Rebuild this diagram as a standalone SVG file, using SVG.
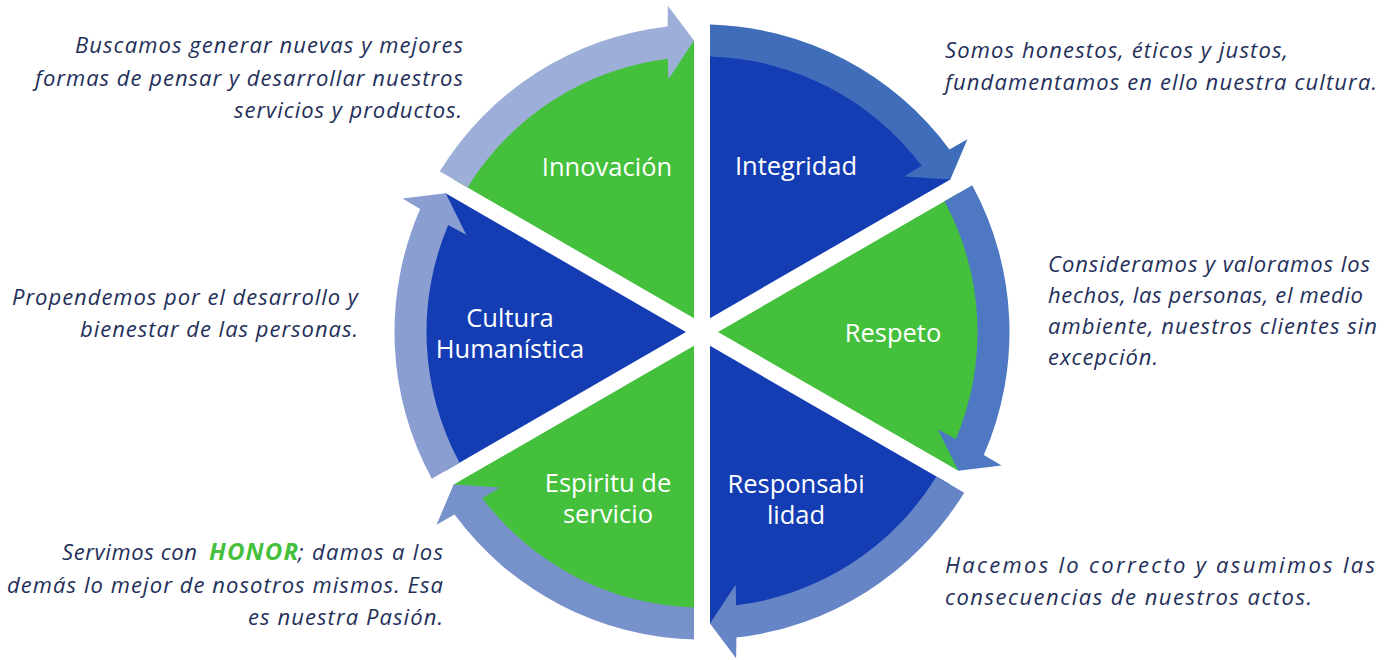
<svg xmlns="http://www.w3.org/2000/svg" width="1396" height="660" viewBox="0 0 1396 660">
  <style>
    .blue{fill:#143DB4}
    .green{fill:#44C03C}
    .lbl{font-family:"Open Sans","Liberation Sans",sans-serif;font-size:25.5px;fill:#FFFFFF;text-anchor:middle}
    .desc{font-family:"Open Sans","Liberation Sans",sans-serif;font-size:22px;font-style:italic;fill:#1F2F5A}
    .honor{font-weight:bold;font-size:24px;fill:#44C03C}
  </style>
  <defs>
    <!-- one 60-degree segment, centred on the origin, spanning the top-right sixth -->
    <path id="wedge" d="M8,-13.86 L8,-291.39 A291.5,291.5 0 0 1 248.35,-152.62 Z"/>
    <!-- curved arrow running clockwise over the outer edge of that segment -->
    <path id="arc-arrow" d="M8,-307.40 A307.5,307.5 0 0 1 247.43,-182.58 L265.45,-192.67 L248.35,-152.62 L202.11,-155.49 L219.67,-166.27 A275.5,275.5 0 0 0 8,-275.38 Z"/>
  </defs>

  <g id="integridad">
    <use href="#wedge" class="blue" transform="translate(702 332)"/>
    <text class="lbl" x="796" y="175">Integridad</text>
    <text class="desc" x="945" y="58" textLength="343" lengthAdjust="spacing">Somos honestos, éticos y justos,</text>
    <text class="desc" x="945" y="90" textLength="432" lengthAdjust="spacing">fundamentamos en ello nuestra cultura.</text>
  </g>

  <g id="respeto">
    <use href="#wedge" class="green" transform="translate(702 332) rotate(60)"/>
    <text class="lbl" x="893" y="342">Respeto</text>
    <text class="desc" x="1048" y="272" textLength="322" lengthAdjust="spacing">Consideramos y valoramos los</text>
    <text class="desc" x="1048" y="303" textLength="315" lengthAdjust="spacing">hechos, las personas, el medio</text>
    <text class="desc" x="1048" y="334" textLength="329" lengthAdjust="spacing">ambiente, nuestros clientes sin</text>
    <text class="desc" x="1048" y="365" textLength="110" lengthAdjust="spacing">excepción.</text>
  </g>

  <g id="responsabilidad">
    <use href="#wedge" class="blue" transform="translate(702 332) rotate(120)"/>
    <text class="lbl" x="796" y="493">Responsabi</text>
    <text class="lbl" x="796" y="524">lidad</text>
    <text class="desc" x="945" y="573" textLength="430" lengthAdjust="spacing">Hacemos lo correcto y asumimos las</text>
    <text class="desc" x="945" y="605" textLength="367" lengthAdjust="spacing">consecuencias de nuestros actos.</text>
  </g>

  <g id="espiritu-de-servicio">
    <use href="#wedge" class="green" transform="translate(702 332) rotate(180)"/>
    <text class="lbl" x="608" y="492">Espiritu de</text>
    <text class="lbl" x="608" y="523">servicio</text>
    <text class="desc" x="62" y="560" textLength="135" lengthAdjust="spacing">Servimos con</text>
    <text class="desc honor" x="209" y="560" textLength="89" lengthAdjust="spacing">HONOR</text>
    <text class="desc" x="298" y="560" textLength="145" lengthAdjust="spacing">; damos a los</text>
    <text class="desc" x="7" y="593" textLength="436" lengthAdjust="spacing">demás lo mejor de nosotros mismos. Esa</text>
    <text class="desc" x="248" y="625" textLength="195" lengthAdjust="spacing">es nuestra Pasión.</text>
  </g>

  <g id="cultura-humanistica">
    <use href="#wedge" class="blue" transform="translate(702 332) rotate(240)"/>
    <text class="lbl" x="510" y="327">Cultura</text>
    <text class="lbl" x="510" y="358">Humanística</text>
    <text class="desc" x="12" y="305" textLength="346" lengthAdjust="spacing">Propendemos por el desarrollo y</text>
    <text class="desc" x="80" y="337" textLength="278" lengthAdjust="spacing">bienestar de las personas.</text>
  </g>

  <g id="innovacion">
    <use href="#wedge" class="green" transform="translate(702 332) rotate(300)"/>
    <text class="lbl" x="607" y="176">Innovación</text>
    <text class="desc" x="75" y="53" textLength="388" lengthAdjust="spacing">Buscamos generar nuevas y mejores</text>
    <text class="desc" x="35" y="86" textLength="428" lengthAdjust="spacing">formas de pensar y desarrollar nuestros</text>
    <text class="desc" x="234" y="118" textLength="228" lengthAdjust="spacing">servicios y productos.</text>
  </g>

  <g id="connectors">
    <use href="#arc-arrow" fill="#3F6DBA" transform="translate(702 332)"/>
    <use href="#arc-arrow" fill="#4F78C2" transform="translate(702 332) rotate(60)"/>
    <use href="#arc-arrow" fill="#6585C6" transform="translate(702 332) rotate(120)"/>
    <use href="#arc-arrow" fill="#7791CB" transform="translate(702 332) rotate(180)"/>
    <use href="#arc-arrow" fill="#8A9ED2" transform="translate(702 332) rotate(240)"/>
    <use href="#arc-arrow" fill="#9DAFD9" transform="translate(702 332) rotate(300)"/>
  </g>
</svg>
